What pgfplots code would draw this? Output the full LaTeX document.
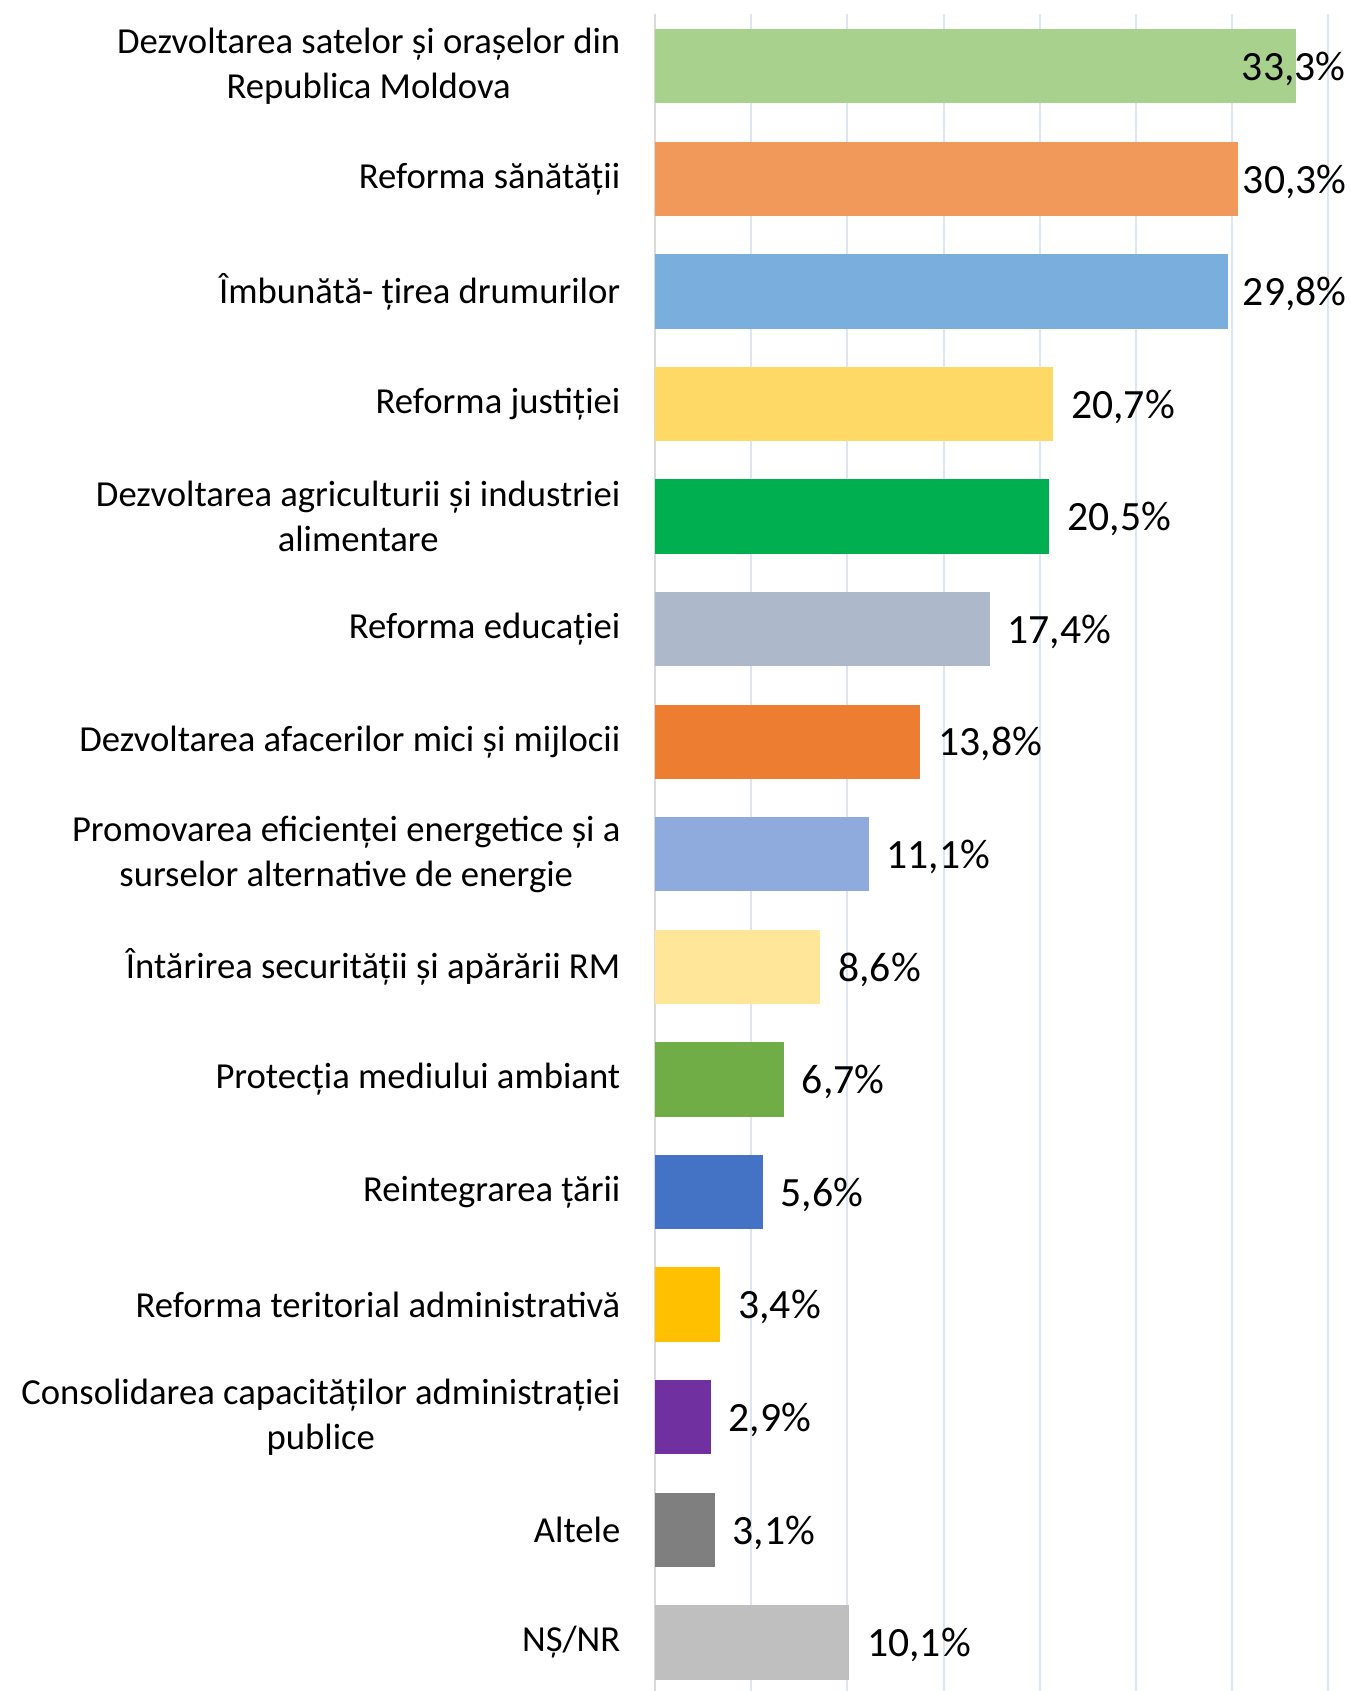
\documentclass[border=0pt]{standalone}
\usepackage{fontspec}
\setmainfont{Carlito}
\usepackage{pgfplots}
\pgfplotsset{compat=1.18}
\definecolor{c1}{HTML}{A9D18E}
\definecolor{c2}{HTML}{F1985B}
\definecolor{c3}{HTML}{7AAEDD}
\definecolor{c4}{HTML}{FFD966}
\definecolor{c5}{HTML}{00B050}
\definecolor{c6}{HTML}{ADB9CA}
\definecolor{c7}{HTML}{ED7D31}
\definecolor{c8}{HTML}{8FAADC}
\definecolor{c9}{HTML}{FFE699}
\definecolor{c10}{HTML}{70AD47}
\definecolor{c11}{HTML}{4472C4}
\definecolor{c12}{HTML}{FFC000}
\definecolor{c13}{HTML}{7030A0}
\definecolor{c14}{HTML}{7F7F7F}
\definecolor{c15}{HTML}{BFBFBF}
\definecolor{gridc}{HTML}{DCE6F2}
\definecolor{axc}{HTML}{D9D9D9}
\begin{document}
\begin{tikzpicture}
\useasboundingbox (-196.5pt,0pt) rectangle (208.5pt,507.3pt);
\begin{axis}[
  at={(0pt,0pt)}, anchor=south west,
  scale only axis, width=202.0pt, height=503.1pt,
  xmin=0, xmax=35, ymin=-0.464, ymax=14.432, y dir=reverse,
  xbar, bar width=22.3pt, bar shift=0pt,
  axis x line*=bottom, axis y line*=left,
  x axis line style={draw=none},
  y axis line style={draw=axc, line width=0.6pt, -},
  xtick={5,10,...,35}, xticklabels={},
  xmajorgrids, grid style={draw=gridc, line width=0.6pt},
  major tick length=0pt,
  ytick={0,...,14},
  yticklabels={
    {Dezvoltarea satelor și orașelor din\\Republica Moldova},
    {Reforma sănătății},
    {Îmbunătă- țirea drumurilor},
    {Reforma justiției},
    {Dezvoltarea agriculturii și industriei\\alimentare},
    {Reforma educației},
    {Dezvoltarea afacerilor mici și mijlocii},
    {Promovarea eficienței energetice și a\\surselor alternative de energie},
    {Întărirea securității și apărării RM},
    {Protecția mediului ambiant},
    {Reintegrarea țării},
    {Reforma teritorial administrativă},
    {Consolidarea capacităților administrației\\publice},
    {Altele},
    {NȘ/NR}},
  yticklabel style={font=\fontsize{11}{13.5}\selectfont, align=center, inner sep=0pt, xshift=-10.2pt},
  point meta=x,
  nodes near coords={\pgfmathprintnumber[fixed,fixed zerofill,precision=1,use comma,assume math mode=true]{\pgfplotspointmeta}\%},
  every node near coord/.append style={font=\fontsize{12.5}{15}\selectfont, anchor=west, inner sep=0pt, xshift=5.2pt, yshift=-0.8pt, text=black},
  clip=false,
]
\addplot[fill=c1, draw=none, bar shift=0pt, every node near coord/.append style={xshift=-21.5pt}] coordinates {(33.3,0)};
\addplot[fill=c2, draw=none, bar shift=0pt, every node near coord/.append style={xshift=-3.9pt}] coordinates {(30.3,1)};
\addplot[fill=c3, draw=none, bar shift=0pt, every node near coord/.append style={xshift=-1pt}] coordinates {(29.8,2)};
\addplot[fill=c4, draw=none, bar shift=0pt] coordinates {(20.7,3)};
\addplot[fill=c5, draw=none, bar shift=0pt] coordinates {(20.5,4)};
\addplot[fill=c6, draw=none, bar shift=0pt] coordinates {(17.4,5)};
\addplot[fill=c7, draw=none, bar shift=0pt] coordinates {(13.8,6)};
\addplot[fill=c8, draw=none, bar shift=0pt] coordinates {(11.1,7)};
\addplot[fill=c9, draw=none, bar shift=0pt] coordinates {(8.6,8)};
\addplot[fill=c10, draw=none, bar shift=0pt] coordinates {(6.7,9)};
\addplot[fill=c11, draw=none, bar shift=0pt] coordinates {(5.6,10)};
\addplot[fill=c12, draw=none, bar shift=0pt] coordinates {(3.4,11)};
\addplot[fill=c13, draw=none, bar shift=0pt] coordinates {(2.9,12)};
\addplot[fill=c14, draw=none, bar shift=0pt] coordinates {(3.1,13)};
\addplot[fill=c15, draw=none, bar shift=0pt] coordinates {(10.1,14)};
\end{axis}
\end{tikzpicture}
\end{document}
